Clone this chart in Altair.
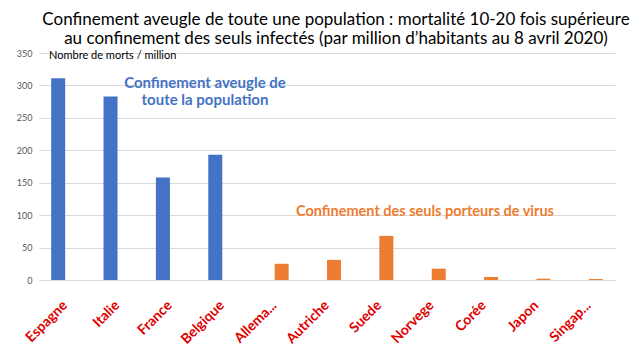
import altair as alt
import pandas as pd

countries = ["Espagne", "Italie", "France", "Belgique", "Allema...", "Autriche",
             "Suede", "Norvege", "Corée", "Japon", "Singap..."]
blanket = [311, 283, 158, 193, 0, 0, 0, 0, 0, 0, 0]
targeted = [0, 0, 0, 0, 25, 31, 68, 17.5, 4.6, 2, 1.5]
series_names = ["Confinement aveugle de toute la population",
                "Confinement des seuls porteurs de virus"]
y_ticks = [0, 50, 100, 150, 200, 250, 300, 350]

rows = []
for c, b, t in zip(countries, blanket, targeted):
    rows.append({"pays": c, "serie": series_names[0], "morts": b})
    rows.append({"pays": c, "serie": series_names[1], "morts": t})
df = pd.DataFrame(rows)

FONT = "Lato"
W, H = 576, 227

bars = alt.Chart(df).mark_bar().encode(
    x=alt.X("pays:N", sort=countries,
            scale=alt.Scale(paddingInner=0.465, paddingOuter=0.2325),
            axis=alt.Axis(title=None, labelAngle=-45, labelAlign="right",
                          labelBaseline="middle", labelPadding=23,
                          labelColor="#E00000", labelFont=FONT, labelFontSize=14,
                          labelFontWeight="bold", ticks=False,
                          domainColor="#D9D9D9", grid=False)),
    xOffset=alt.XOffset("serie:N", sort=series_names,
                        scale=alt.Scale(paddingInner=0, paddingOuter=0)),
    y=alt.Y("morts:Q", scale=alt.Scale(domain=[0, 350]),
            axis=alt.Axis(title=None, values=y_ticks, labelColor="#595959",
                          labelFont=FONT, labelFontSize=9, labelPadding=7,
                          ticks=False, domain=False, gridColor="#D9D9D9")),
    color=alt.Color("serie:N", sort=series_names,
                    scale=alt.Scale(domain=series_names, range=["#4472C4", "#ED7D31"]),
                    legend=None),
)

ann = pd.DataFrame({"t": [0]})
unit = alt.Chart(ann).mark_text(text="Nombre de morts / million", font=FONT, fontSize=11,
                                 align="left", baseline="alphabetic", color="#000000").encode(
    x=alt.value(10), y=alt.value(6))
blue = alt.Chart(ann).mark_text(text=["Confinement aveugle de", "toute la population"],
                                 font=FONT, fontSize=15, fontWeight="bold", lineHeight=17,
                                 align="center", baseline="alphabetic", color="#4472C4").encode(
    x=alt.value(166), y=alt.value(35))
orange = alt.Chart(ann).mark_text(text="Confinement des seuls porteurs de virus",
                                   font=FONT, fontSize=14.5, fontWeight="bold",
                                   align="center", baseline="alphabetic", color="#ED7D31").encode(
    x=alt.value(386), y=alt.value(163))

chart = alt.layer(bars, unit, blue, orange).properties(
    width=W, height=H,
    autosize=alt.AutoSizeParams(type="none"),
    padding={"left": 31, "top": 45, "right": 17, "bottom": 72},
    title=alt.TitleParams(
        text=["Confinement aveugle de toute une population : mortalité 10-20 fois supérieure",
              "au confinement des seuls infectés (par million d’habitants au 8 avril 2020)"],
        font=FONT, fontSize=17, fontWeight="normal", color="#000000",
        anchor="middle", dx=9, offset=1, lineHeight=19),
).configure_view(stroke=None)

chart.save("out.html", embed_options={"renderer": "svg", "actions": False})
